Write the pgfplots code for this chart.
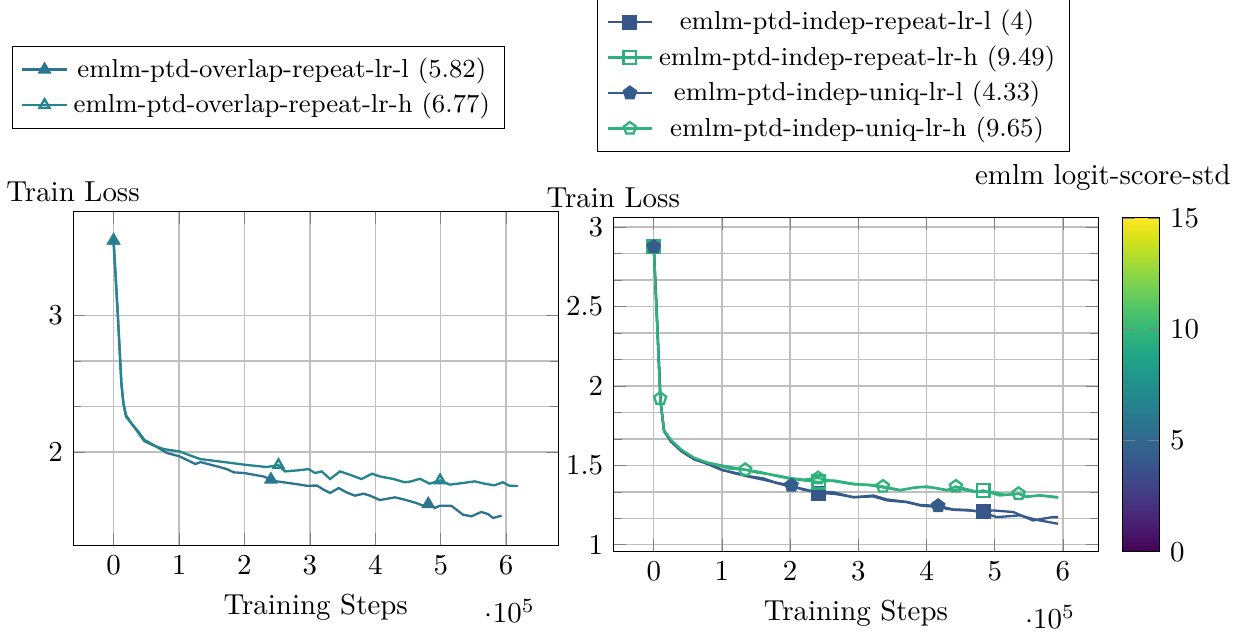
\documentclass[border=0pt]{standalone}
\usepackage{pgfplots}
\pgfplotsset{compat=1.18}
\definecolor{cA}{HTML}{2C758E}
\definecolor{cB}{HTML}{26848E}
\definecolor{cRL}{HTML}{39568B}
\definecolor{cUL}{HTML}{365C8C}
\definecolor{cRH}{HTML}{2EAF7E}
\definecolor{cUH}{HTML}{30B27C}
\begin{document}
\begin{tikzpicture}
\pgfplotsset{
  myax/.style={
    scale only axis, width=167.9pt, height=115.5pt,
    grid=both, minor y tick num=2,
    major grid style={black!25, line width=0.5pt},
    minor grid style={black!25, line width=0.5pt},
    xtick={0,100000,200000,300000,400000,500000,600000},
    xlabel={Training Steps}, ylabel={Train Loss},
    every axis y label/.style={at={(axis description cs:0,1)},anchor=south},
    legend cell align=center,
    legend style={font=\small, draw=black},
    legend image code/.code={\draw[mark indices={2}] plot coordinates {(0cm,0cm) (0.27cm,0cm) (0.54cm,0cm)};},
    every axis plot/.append style={thick},
  }
}
\begin{axis}[myax, name=L,
  xmin=-61800, xmax=679800, ymin=1.315, ymax=3.76, ytick={2,3},
  legend style={at={(axis description cs:-0.126,1.248)}, anchor=south west},
]
\addplot[color=cA, mark=triangle*, mark indices={1,19,36}] coordinates {
(0,3.55) (0.06e5,3.05) (0.12e5,2.50) (0.15e5,2.36) (0.19e5,2.27) (0.29e5,2.20) (0.38e5,2.15) (0.47e5,2.09) (0.62e5,2.05) (0.82e5,1.993)
(1.01e5,1.969) (1.25e5,1.913) (1.33e5,1.927) (1.58e5,1.896) (1.73e5,1.876) (1.84e5,1.852) (2.00e5,1.847) (2.29e5,1.822) (2.405e5,1.80) (2.50e5,1.786)
(2.85e5,1.762) (2.95e5,1.754) (3.11e5,1.755) (3.21e5,1.725) (3.31e5,1.701) (3.44e5,1.737) (3.56e5,1.705) (3.69e5,1.681) (3.82e5,1.696) (3.92e5,1.681)
(4.07e5,1.649) (4.30e5,1.669) (4.45e5,1.652) (4.63e5,1.627) (4.73e5,1.608) (4.81e5,1.62) (4.91e5,1.591) (4.99e5,1.608) (5.16e5,1.608) (5.34e5,1.542)
(5.47e5,1.530) (5.62e5,1.562) (5.72e5,1.547) (5.80e5,1.518) (5.93e5,1.535)
};
\addlegendentry{emlm-ptd-overlap-repeat-lr-l (5.82)}
\addplot[color=cB, mark=triangle, mark indices={1,18,35}] coordinates {
(0,3.55) (0.06e5,3.05) (0.12e5,2.50) (0.15e5,2.36) (0.19e5,2.26) (0.29e5,2.20) (0.38e5,2.14) (0.47e5,2.08) (0.62e5,2.047) (0.77e5,2.022)
(1.01e5,2.005) (1.18e5,1.974) (1.33e5,1.949) (1.48e5,1.940) (1.73e5,1.925) (2.00e5,1.908) (2.34e5,1.891) (2.52e5,1.905) (2.62e5,1.859) (2.85e5,1.868)
(2.98e5,1.876) (3.08e5,1.847) (3.18e5,1.859) (3.31e5,1.803) (3.46e5,1.859) (3.61e5,1.835) (3.79e5,1.803) (3.95e5,1.842) (4.07e5,1.822) (4.28e5,1.803)
(4.45e5,1.779) (4.55e5,1.786) (4.68e5,1.805) (4.83e5,1.769) (4.99e5,1.793) (5.14e5,1.762) (5.34e5,1.774) (5.52e5,1.786) (5.67e5,1.769) (5.82e5,1.757)
(5.95e5,1.779) (6.05e5,1.754) (6.18e5,1.752)
};
\addlegendentry{emlm-ptd-overlap-repeat-lr-h (6.77)}
\end{axis}
\begin{axis}[myax, at={(186.9pt,-2.1pt)},
  xmin=-59300, xmax=652300, ymin=0.956, ymax=3.057, ytick={1,1.5,2,2.5,3},
  legend style={at={(axis description cs:-0.033,1.196)}, anchor=south west},
  colormap name=viridis, colorbar, point meta min=0, point meta max=15,
  colorbar/width=13pt,
  colorbar shift/.style={xshift=8.2pt},
  colorbar style={at={(parent axis.north east)}, anchor=north west,
    ytick={0,5,10,15}, title={emlm logit-score-std}, title style={xshift=-13.2pt}},
]
\addplot[color=cRL, mark=square*, mark size=2.2pt, mark indices={1,16,26}] coordinates {
(0,2.875) (0.05e5,2.40) (0.10e5,1.90) (0.15e5,1.72) (0.25e5,1.655) (0.40e5,1.592) (0.59e5,1.540) (0.79e5,1.512) (1.00e5,1.472) (1.20e5,1.448)
(1.42e5,1.426) (1.60e5,1.410) (1.76e5,1.394) (2.00e5,1.365) (2.20e5,1.350) (2.42e5,1.325) (2.64e5,1.321) (2.93e5,1.300) (3.22e5,1.304) (3.42e5,1.279)
(3.71e5,1.268) (3.91e5,1.247) (4.15e5,1.238) (4.39e5,1.220) (4.59e5,1.216) (4.83e5,1.210) (4.98e5,1.216) (5.27e5,1.206) (5.56e5,1.153) (5.85e5,1.174)
(5.93e5,1.174)
};
\addlegendentry{emlm-ptd-indep-repeat-lr-l (4)}
\addplot[color=cRH, mark=square, mark size=2.2pt, mark indices={1,15,26}] coordinates {
(0,2.875) (0.05e5,2.40) (0.10e5,1.91) (0.15e5,1.72) (0.25e5,1.660) (0.40e5,1.597) (0.59e5,1.545) (0.79e5,1.517) (1.00e5,1.499) (1.27e5,1.478)
(1.57e5,1.457) (1.76e5,1.436) (2.00e5,1.415) (2.20e5,1.405) (2.42e5,1.395) (2.64e5,1.405) (2.93e5,1.384) (3.17e5,1.374) (3.37e5,1.360) (3.61e5,1.342)
(3.81e5,1.360) (4.00e5,1.367) (4.30e5,1.342) (4.50e5,1.350) (4.73e5,1.331) (4.83e5,1.342) (5.07e5,1.310) (5.37e5,1.321) (5.46e5,1.304) (5.66e5,1.310)
(5.93e5,1.296)
};
\addlegendentry{emlm-ptd-indep-repeat-lr-h (9.49)}
\addplot[color=cUL, mark=pentagon*, mark size=2.2pt, mark indices={1,14,23}] coordinates {
(0,2.875) (0.05e5,2.40) (0.10e5,1.90) (0.15e5,1.715) (0.25e5,1.650) (0.40e5,1.590) (0.59e5,1.538) (0.79e5,1.508) (1.00e5,1.470) (1.20e5,1.452)
(1.42e5,1.430) (1.60e5,1.418) (1.80e5,1.390) (2.02e5,1.374) (2.20e5,1.345) (2.40e5,1.335) (2.64e5,1.330) (2.93e5,1.298) (3.22e5,1.310) (3.42e5,1.285)
(3.71e5,1.270) (3.91e5,1.250) (4.17e5,1.245) (4.39e5,1.222) (4.59e5,1.220) (4.81e5,1.205) (5.03e5,1.174) (5.37e5,1.185) (5.61e5,1.157) (5.93e5,1.132)
};
\addlegendentry{emlm-ptd-indep-uniq-lr-l (4.33)}
\addplot[color=cUH, mark=pentagon, mark size=2.2pt, mark indices={2,10,15,19,24,28}] coordinates {
(0,2.875) (0.094e5,1.92) (0.15e5,1.72) (0.25e5,1.66) (0.40e5,1.60) (0.59e5,1.548) (0.79e5,1.515) (0.90e5,1.505) (1.10e5,1.480) (1.34e5,1.472)
(1.50e5,1.455) (1.76e5,1.440) (2.00e5,1.420) (2.20e5,1.410) (2.41e5,1.420) (2.64e5,1.400) (2.93e5,1.380) (3.17e5,1.378) (3.36e5,1.367) (3.61e5,1.345)
(3.91e5,1.363) (4.10e5,1.360) (4.30e5,1.345) (4.43e5,1.367) (4.73e5,1.335) (4.98e5,1.331) (5.15e5,1.315) (5.35e5,1.321) (5.46e5,1.300) (5.66e5,1.312)
(5.93e5,1.300)
};
\addlegendentry{emlm-ptd-indep-uniq-lr-h (9.65)}
\end{axis}
\pgfresetboundingbox
\path[use as bounding box] (-25.3pt,-29.9pt) rectangle (410.3pt,188.8pt);
\end{tikzpicture}
\end{document}
